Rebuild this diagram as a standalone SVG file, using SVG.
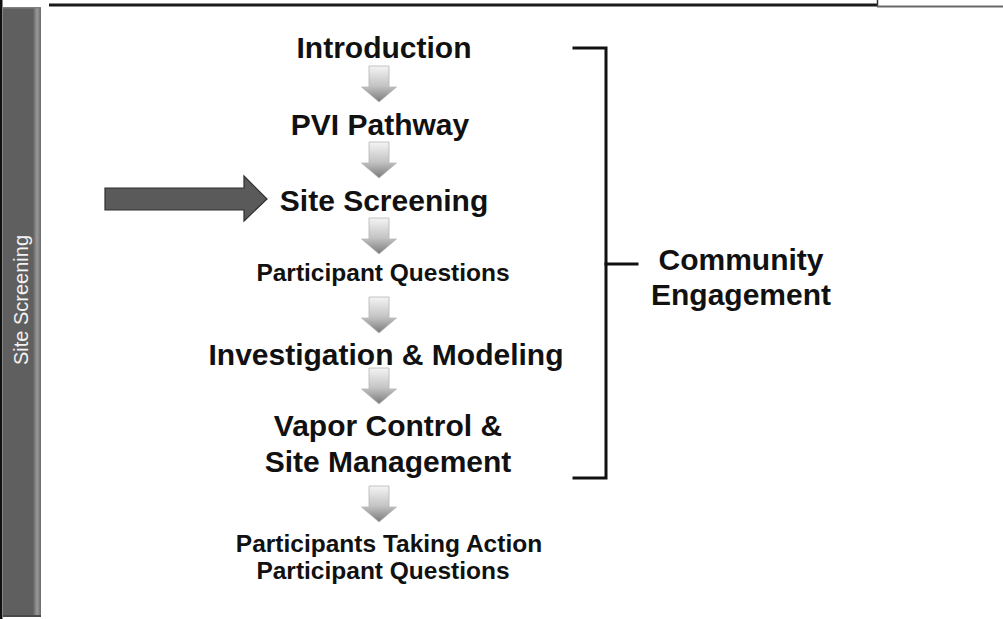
<svg xmlns="http://www.w3.org/2000/svg" width="1003" height="619" viewBox="0 0 1003 619">
  <style>
    .t { font-family: "Liberation Sans", Arial, sans-serif; font-weight: bold; fill: #111; text-anchor: middle; }
    .big { font-size: 30px; }
    .small { font-size: 24.5px; }
    .br { fill: none; stroke: #111; stroke-width: 3; stroke-linecap: square; }
    .down { fill: url(#dg); stroke: #b5b5b5; stroke-width: 0.8; }
  </style>
  <defs>
    <linearGradient id="dg" x1="0" y1="0" x2="0" y2="1">
      <stop offset="0" stop-color="#f4f4f4"/>
      <stop offset="0.55" stop-color="#c4c4c4"/>
      <stop offset="1" stop-color="#7a7a7a"/>
    </linearGradient>
    <linearGradient id="bev" x1="0" y1="0" x2="1" y2="0">
      <stop offset="0" stop-color="#606060"/>
      <stop offset="0.5" stop-color="#9a9a9a"/>
      <stop offset="1" stop-color="#6a6a6a"/>
    </linearGradient>
    <path id="da" d="M-10,0 H10 V21 H17.5 L0,36 L-17.5,21 H-10 Z"/>
  </defs>
  <rect width="1003" height="619" fill="#fff"/>

  <g id="frame">
    <rect x="0" y="0" width="2.5" height="619" fill="#111"/>
    <rect x="3" y="7" width="38" height="610" fill="#5f5f5f"/>
    <rect x="33" y="7" width="8" height="610" fill="url(#bev)"/>
    <rect x="3" y="7" width="38" height="1.5" fill="#808080"/>
    <rect x="3" y="615" width="38" height="2" fill="#4a4a4a"/>
    <line x1="49" y1="5" x2="877" y2="5" stroke="#1a1a1a" stroke-width="3"/>
    <line x1="877.5" y1="0" x2="877.5" y2="6.5" stroke="#333" stroke-width="1.5"/>
    <line x1="877" y1="6.5" x2="1003" y2="6.5" stroke="#6a6a6a" stroke-width="2"/>
    <text transform="translate(28,300) rotate(-90)" font-family="Liberation Sans, Arial, sans-serif" font-size="20" fill="#f2f2f2" text-anchor="middle">Site Screening</text>
  </g>

  <g id="pointer">
    <polygon points="105,188 244,188 244,176 267,199 244,221 244,210 105,210" fill="#5a5a5a" stroke="#2e2e2e" stroke-width="1.2"/>
  </g>

  <g id="n-introduction"><text class="t big" x="384" y="58">Introduction</text></g>
  <g id="n-pvi"><text class="t big" x="380" y="135">PVI Pathway</text></g>
  <g id="n-site-screening"><text class="t big" x="384" y="211">Site Screening</text></g>
  <g id="n-participant-questions"><text class="t small" x="383" y="281">Participant Questions</text></g>
  <g id="n-investigation"><text class="t big" x="386" y="365">Investigation &amp; Modeling</text></g>
  <g id="n-vapor"><text class="t big" x="388" y="436">Vapor Control &amp;</text><text class="t big" x="388" y="472">Site Management</text></g>
  <g id="n-participants-action"><text class="t small" x="389" y="552">Participants Taking Action</text><text class="t small" x="383" y="579">Participant Questions</text></g>
  <g id="n-community"><text class="t big" x="741" y="270">Community</text><text class="t big" x="741" y="305">Engagement</text></g>

  <g id="connectors">
    <use href="#da" class="down" x="379" y="66"/>
    <use href="#da" class="down" x="379" y="142"/>
    <use href="#da" class="down" x="379" y="218"/>
    <use href="#da" class="down" x="379" y="297"/>
    <use href="#da" class="down" x="379" y="368"/>
    <use href="#da" class="down" x="379" y="486"/>
    <polyline class="br" points="574,48 606,48 606,478 574,478"/>
    <line class="br" x1="606" y1="264" x2="637" y2="264"/>
  </g>
</svg>
